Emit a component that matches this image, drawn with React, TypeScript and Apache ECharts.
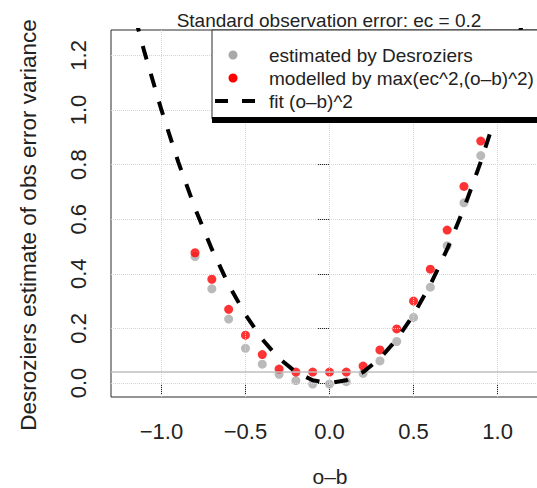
import React, { useEffect, useRef } from "react";
import * as echarts from "echarts";

const titleText = "Standard observation error: ec = 0.2";
const xLabel = "o–b";
const yLabel = "Desroziers estimate of obs error variance";
const legendLabels = [
  "estimated by Desroziers",
  "modelled by max(ec^2,(o–b)^2)",
  "fit (o–b)^2",
];

const xTicks = [-1.0, -0.5, 0.0, 0.5, 1.0];
const yTicks = [0.0, 0.2, 0.4, 0.6, 0.8, 1.0, 1.2];

const binX = [-0.8, -0.7, -0.6, -0.5, -0.4, -0.3, -0.2, -0.1, 0.0, 0.1, 0.2, 0.3, 0.4, 0.5, 0.6, 0.7, 0.8, 0.9];
const estimated = [0.463, 0.345, 0.234, 0.127, 0.069, 0.032, 0.009, -0.004, -0.004, 0.005, 0.035, 0.081, 0.152, 0.24, 0.351, 0.503, 0.66, 0.833];
const modelled = [0.477, 0.38, 0.27, 0.175, 0.104, 0.051, 0.04, 0.04, 0.04, 0.04, 0.062, 0.121, 0.198, 0.3, 0.417, 0.56, 0.72, 0.886];

const fitX = [-1.2, -1.1, -1.0, -0.9, -0.8, -0.7, -0.6, -0.5, -0.4, -0.3, -0.2, -0.1, 0.0, 0.1, 0.2, 0.3, 0.4, 0.5, 0.6, 0.7, 0.8, 0.9, 1.0, 1.1, 1.2];
const fitY = [1.44, 1.21, 1.0, 0.81, 0.64, 0.49, 0.36, 0.25, 0.16, 0.09, 0.04, 0.01, 0.0, 0.01, 0.04, 0.09, 0.16, 0.25, 0.36, 0.49, 0.64, 0.81, 1.0, 1.21, 1.44];

const ecSquared = 0.04;

const FONT = "'Liberation Sans', Arial, Helvetica, sans-serif";
const GRAY = "#a9a9a9";
const RED = "#ff0000";
const FRAME = "#2b2b2b";

function fmt(v: number) {
  return v.toFixed(1).replace("-", "\u2212");
}

export default function App() {
  const ref = useRef<HTMLDivElement>(null);
  useEffect(() => {
    if (!ref.current) return;
    const chart = echarts.init(ref.current, undefined, { renderer: "svg" });
    const gridLineStyle = { color: "#d3d3d3", type: "dotted" as const, width: 1 };
    chart.setOption({
      animation: false,
      backgroundColor: "#ffffff",
      textStyle: { fontFamily: FONT },
      grid: {
        left: 111,
        top: 30,
        width: 437,
        height: 367,
        show: true,
        borderColor: FRAME,
        borderWidth: 1,
        backgroundColor: "transparent",
        containLabel: false,
        outerBoundsMode: "none",
      },
      xAxis: {
        type: "value",
        min: -1.3,
        max: 1.3,
        axisLine: { show: false },
        splitLine: { show: false },
        axisTick: {
          show: true,
          customValues: xTicks,
          length: 11,
          inside: false,
          lineStyle: { color: FRAME, width: 1 },
        },
        axisLabel: {
          customValues: xTicks,
          formatter: (v: number) => fmt(v),
          fontSize: 22,
          color: "#222",
          margin: 23,
          fontFamily: FONT,
        },
      },
      yAxis: {
        type: "value",
        min: -0.0513,
        max: 1.293,
        axisLine: { show: false },
        splitLine: { show: false },
        axisTick: {
          show: true,
          customValues: yTicks,
          length: 12,
          inside: false,
          lineStyle: { color: FRAME, width: 1 },
        },
        axisLabel: {
          customValues: yTicks,
          formatter: (v: number) => v.toFixed(1),
          fontSize: 22,
          color: "#222",
          rotate: 90,
          margin: 22,
          fontFamily: FONT,
        },
      },
      series: [
        {
          name: "grid",
          type: "scatter",
          data: [],
          silent: true,
          z: 1,
          markLine: {
            silent: true,
            symbol: "none",
            label: { show: false },
            lineStyle: gridLineStyle,
            data: [
              ...xTicks.map((v) => ({ xAxis: v })),
              ...yTicks.map((v) => ({ yAxis: v })),
            ],
          },
        },
        {
          name: "ec2",
          type: "scatter",
          data: [],
          silent: true,
          z: 2,
          markLine: {
            silent: true,
            symbol: "none",
            label: { show: false },
            lineStyle: { color: "#bfbfbf", type: "solid", width: 1.5 },
            data: [{ yAxis: ecSquared }],
          },
        },
        {
          name: legendLabels[0],
          type: "scatter",
          z: 3,
          symbol: "circle",
          symbolSize: 9,
          itemStyle: { color: GRAY },
          data: binX.map((x, i) => [x, estimated[i]]),
        },
        {
          name: legendLabels[1],
          type: "scatter",
          z: 4,
          symbol: "circle",
          symbolSize: 9,
          itemStyle: { color: RED },
          data: binX.map((x, i) => [x, modelled[i]]),
        },
        {
          name: legendLabels[2],
          type: "line",
          z: 5,
          showSymbol: false,
          symbol: "none",
          clip: true,
          lineStyle: { color: "#000", width: 4, type: [14, 15], cap: "butt" },
          data: fitX.map((x, i) => [x, fitY[i]]),
        },
      ],
      graphic: [
        {
          type: "text",
          z: 100,
          x: 329,
          y: 20,
          style: {
            text: titleText,
            fontSize: 19,
            fontFamily: FONT,
            fill: "#222",
            align: "center",
            verticalAlign: "middle",
          },
        },
        {
          type: "text",
          z: 100,
          x: 330,
          y: 476,
          style: {
            text: xLabel,
            fontSize: 21,
            fontFamily: FONT,
            fill: "#222",
            align: "center",
            verticalAlign: "middle",
          },
        },
        {
          type: "text",
          z: 100,
          x: 28,
          y: 225,
          rotation: Math.PI / 2,
          style: {
            text: yLabel,
            fontSize: 22.5,
            fontFamily: FONT,
            fill: "#222",
            align: "center",
            verticalAlign: "middle",
          },
        },
        {
          type: "group",
          z: 100,
          children: [
            {
              type: "rect",
              z: 100,
              shape: { x: 212, y: 30, width: 340, height: 89 },
              style: { fill: "#fff", stroke: FRAME, lineWidth: 1 },
            },
            {
              type: "rect",
              z: 101,
              shape: { x: 212, y: 117, width: 340, height: 6 },
              style: { fill: "#000" },
            },
            {
              type: "circle",
              z: 101,
              shape: { cx: 233, cy: 55, r: 4.5 },
              style: { fill: GRAY },
            },
            {
              type: "circle",
              z: 101,
              shape: { cx: 233, cy: 78, r: 4.5 },
              style: { fill: RED },
            },
            {
              type: "line",
              z: 101,
              shape: { x1: 215, y1: 101, x2: 228, y2: 101 },
              style: { stroke: "#000", lineWidth: 4 },
            },
            {
              type: "line",
              z: 101,
              shape: { x1: 242, y1: 101, x2: 255, y2: 101 },
              style: { stroke: "#000", lineWidth: 4 },
            },
            ...legendLabels.map((t, i) => ({
              type: "text",
              z: 101,
              x: 269,
              y: 55 + i * 23,
              style: {
                text: t,
                fontSize: 19,
                fontFamily: FONT,
                fill: "#222",
                align: "left",
                verticalAlign: "middle",
              },
            })),
          ],
        },
      ],
    });
    return () => chart.dispose();
  }, []);
  return (
    <div
      ref={ref}
      style={{ position: "fixed", left: 0, top: 0, width: 537, height: 488 }}
    />
  );
}
